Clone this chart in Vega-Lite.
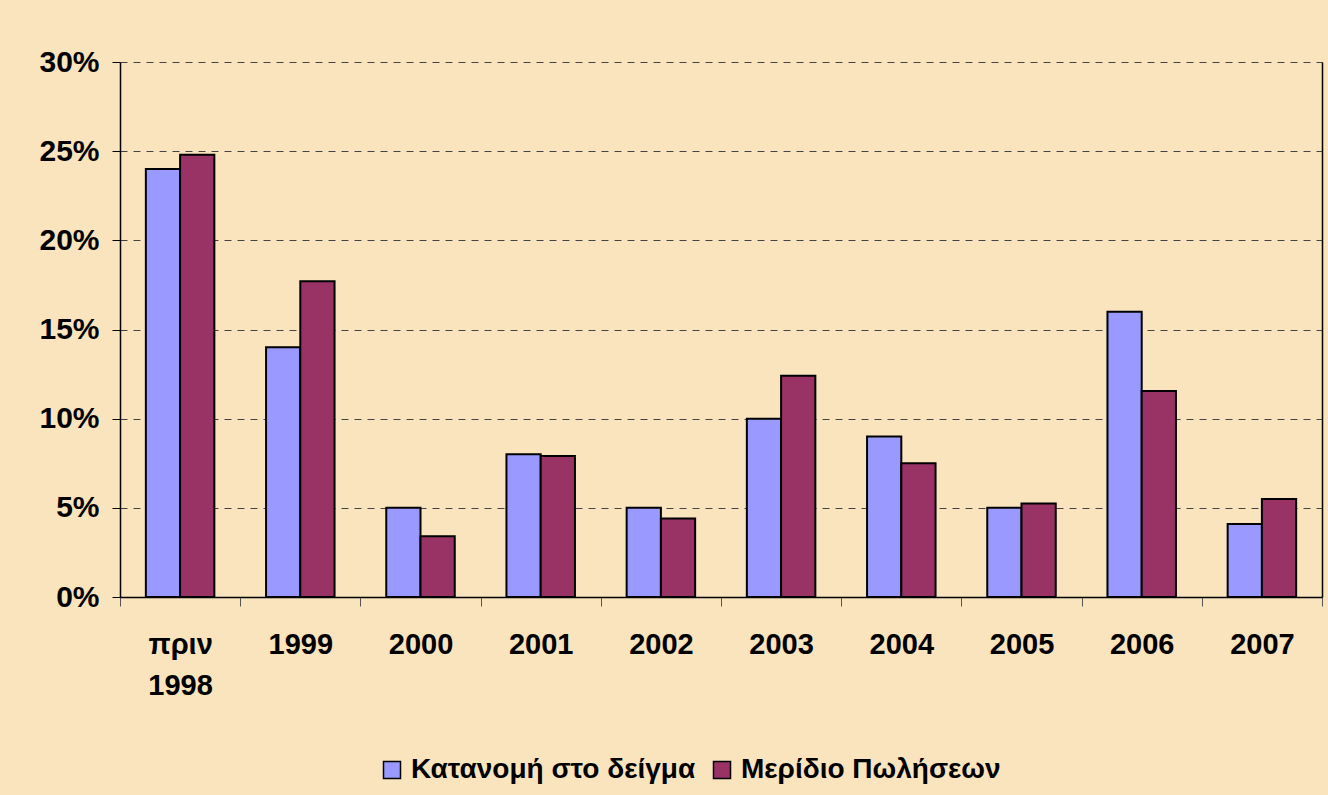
{
  "$schema": "https://vega.github.io/schema/vega-lite/v6.json",
  "width": 1202,
  "height": 535,
  "autosize": {"type": "none"},
  "padding": {"left": 120, "top": 62, "right": 6, "bottom": 198},
  "background": "#F9E4BE",
  "config": {
    "font": "Liberation Sans",
    "view": {"stroke": null},
    "axis": {"labelFont": "Liberation Sans", "labelFontWeight": "bold", "labelColor": "#000000"},
    "legend": {"labelFont": "Liberation Sans", "labelFontWeight": "bold", "labelColor": "#000000", "labelFontSize": 28}
  },
  "data": {
    "values": [
      {"year": "πριν 1998", "series": "Κατανομή στο δείγμα", "value": 0.24},
      {"year": "πριν 1998", "series": "Μερίδιο Πωλήσεων", "value": 0.248},
      {"year": "1999", "series": "Κατανομή στο δείγμα", "value": 0.14},
      {"year": "1999", "series": "Μερίδιο Πωλήσεων", "value": 0.177},
      {"year": "2000", "series": "Κατανομή στο δείγμα", "value": 0.05},
      {"year": "2000", "series": "Μερίδιο Πωλήσεων", "value": 0.034},
      {"year": "2001", "series": "Κατανομή στο δείγμα", "value": 0.08},
      {"year": "2001", "series": "Μερίδιο Πωλήσεων", "value": 0.079},
      {"year": "2002", "series": "Κατανομή στο δείγμα", "value": 0.05},
      {"year": "2002", "series": "Μερίδιο Πωλήσεων", "value": 0.044},
      {"year": "2003", "series": "Κατανομή στο δείγμα", "value": 0.10},
      {"year": "2003", "series": "Μερίδιο Πωλήσεων", "value": 0.124},
      {"year": "2004", "series": "Κατανομή στο δείγμα", "value": 0.09},
      {"year": "2004", "series": "Μερίδιο Πωλήσεων", "value": 0.075},
      {"year": "2005", "series": "Κατανομή στο δείγμα", "value": 0.05},
      {"year": "2005", "series": "Μερίδιο Πωλήσεων", "value": 0.0525},
      {"year": "2006", "series": "Κατανομή στο δείγμα", "value": 0.16},
      {"year": "2006", "series": "Μερίδιο Πωλήσεων", "value": 0.1155},
      {"year": "2007", "series": "Κατανομή στο δείγμα", "value": 0.041},
      {"year": "2007", "series": "Μερίδιο Πωλήσεων", "value": 0.055}
    ]
  },
  "layer": [
    {
      "mark": {"type": "bar", "stroke": "#000000", "strokeWidth": 2},
      "encoding": {
        "x": {
          "field": "year",
          "type": "nominal",
          "sort": null,
          "scale": {"paddingInner": 0, "paddingOuter": 0},
          "axis": {
            "title": null,
            "labelAngle": 0,
            "labelFontSize": 29,
            "labelPadding": 24,
            "labelBaseline": "top",
            "labelLineHeight": 41,
            "labelExpr": "datum.value == 'πριν 1998' ? ['πριν', '1998'] : datum.label",
            "tickBand": "extent",
            "tickSize": 9,
            "tickColor": "#555555",
            "domainColor": "#000000",
            "domainWidth": 1.5,
            "grid": false
          }
        },
        "xOffset": {
          "field": "series",
          "type": "nominal",
          "scale": {"paddingInner": 0, "paddingOuter": 0.755}
        },
        "y": {
          "field": "value",
          "type": "quantitative",
          "scale": {"domain": [0, 0.3]},
          "axis": {
            "title": null,
            "format": ".0%",
            "values": [0, 0.05, 0.1, 0.15, 0.2, 0.25, 0.3],
            "labelFontSize": 30,
            "labelPadding": 13,
            "tickSize": 8,
            "tickColor": "#000000",
            "domainColor": "#000000",
            "domainWidth": 1.5,
            "grid": true,
            "gridColor": "#444444",
            "gridDash": [7, 6],
            "gridWidth": 1
          }
        },
        "color": {
          "field": "series",
          "type": "nominal",
          "scale": {
            "domain": ["Κατανομή στο δείγμα", "Μερίδιο Πωλήσεων"],
            "range": ["#9999FF", "#993366"]
          },
          "legend": {
            "title": null,
            "orient": "none",
            "direction": "horizontal",
            "legendX": 258,
            "legendY": 694,
            "padding": 0,
            "labelLimit": 0,
            "symbolType": "square",
            "symbolSize": 289,
            "symbolStrokeColor": "#000000",
            "symbolStrokeWidth": 1.5,
            "symbolOpacity": 1,
            "labelOffset": 5,
            "columnPadding": 12,
            "encode": {
              "labels": {
                "enter": {"fontWeight": {"value": 700}, "font": {"value": "Liberation Sans"}},
                "update": {"fontWeight": {"value": 700}, "font": {"value": "Liberation Sans"}}
              }
            }
          }
        }
      }
    },
    {
      "mark": {"type": "rule", "opacity": 0},
      "encoding": {
        "y": {
          "datum": 0,
          "type": "quantitative",
          "scale": {"domain": [0, 0.3]},
          "axis": {
            "orient": "right",
            "title": null,
            "labels": false,
            "ticks": false,
            "grid": false,
            "domainColor": "#000000",
            "domainWidth": 1.5
          }
        }
      }
    }
  ],
  "resolve": {"axis": {"y": "independent"}, "scale": {"y": "shared"}}
}
